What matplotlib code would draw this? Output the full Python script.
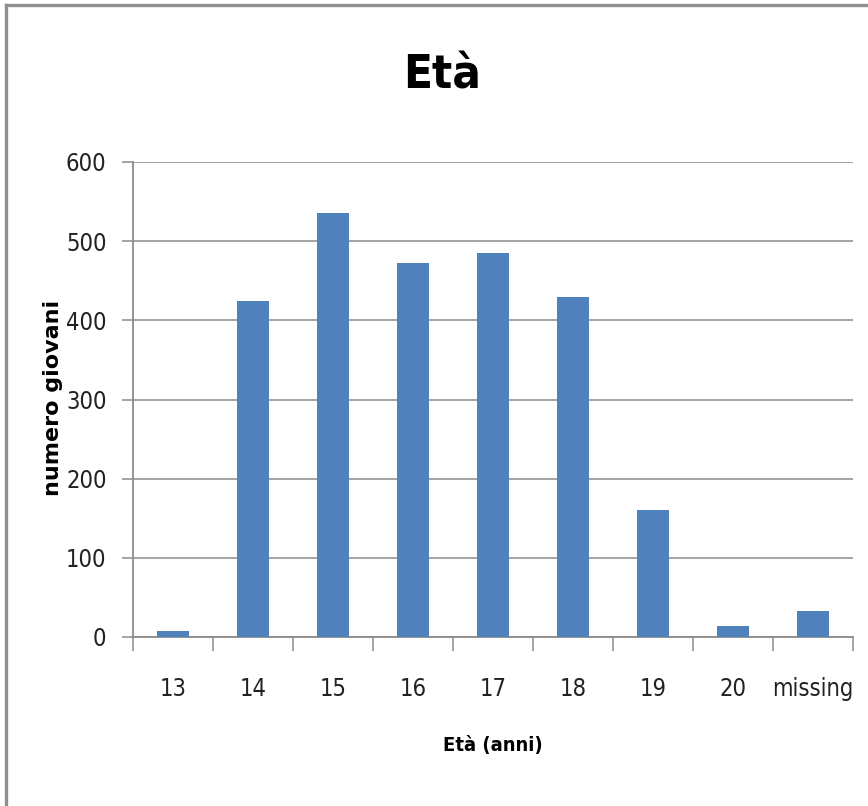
import matplotlib
matplotlib.use("Agg")
import matplotlib.pyplot as plt
from matplotlib.lines import Line2D

categories = ["13", "14", "15", "16", "17", "18", "19", "20", "missing"]
values = [8, 424, 535, 473, 485, 429, 160, 14, 33]
yticks = [0, 100, 200, 300, 400, 500, 600]

W, H = 868, 806
fig = plt.figure(figsize=(W / 100, H / 100), dpi=100)
ax = fig.add_axes([133 / W, 1 - 637 / H, (853 - 133) / W, (637 - 162) / H])

x = list(range(len(categories)))
ax.bar(x, values, width=0.4, color="#4F81BD", zorder=3)

fam = ["DejaVu Sans"]
st = "condensed"
ax.set_xlim(-0.5, len(categories) - 0.5)
ax.set_ylim(0, 600)
ax.set_yticks(yticks)
ax.set_yticklabels([str(v) for v in yticks], fontfamily=fam, fontstretch=st, fontsize=17, color="#222222")
ax.yaxis.grid(True, color="#8c8c8c", linewidth=1.1, zorder=0)

ax.set_xticks([i - 0.5 for i in range(len(categories) + 1)])
ax.set_xticklabels([""] * (len(categories) + 1))
ax.set_xticks(x, minor=True)
ax.set_xticklabels(categories, minor=True, fontfamily=fam, fontstretch=st, fontsize=17, color="#222222")
ax.tick_params(axis="x", which="major", direction="out", length=10, width=1.1, color="#8c8c8c")
ax.tick_params(axis="x", which="minor", length=0, pad=29)
ax.tick_params(axis="y", direction="out", length=8, width=1.1, color="#8c8c8c", pad=11)

for s in ["top", "right"]:
    ax.spines[s].set_visible(False)
for s in ["left", "bottom"]:
    ax.spines[s].set_color("#8c8c8c")
    ax.spines[s].set_linewidth(1.3)

fig.text(442 / W, 1 - 76 / H, "Età", ha="center", va="center", fontsize=34,
         fontweight="bold", fontfamily=fam, fontstretch=st)
fig.text(493 / W, 1 - 745 / H, "Età (anni)", ha="center", va="center", fontsize=14.5,
         fontweight="bold", fontfamily=fam, fontstretch=st)
fig.text(53 / W, 1 - 398 / H, "numero giovani", ha="center", va="center", fontsize=16,
         fontweight="bold", rotation=90, fontfamily=["DejaVu Sans"])

# outer frame (left and top edges)
fig.add_artist(Line2D([6 / W, 6 / W], [0, 1 - 5 / H], transform=fig.transFigure,
                      color="#8f8f8f", linewidth=2.4))
fig.add_artist(Line2D([6 / W, 1], [1 - 5 / H, 1 - 5 / H], transform=fig.transFigure,
                      color="#8f8f8f", linewidth=2.4))

fig.savefig("out.png", dpi=100, facecolor="white")
